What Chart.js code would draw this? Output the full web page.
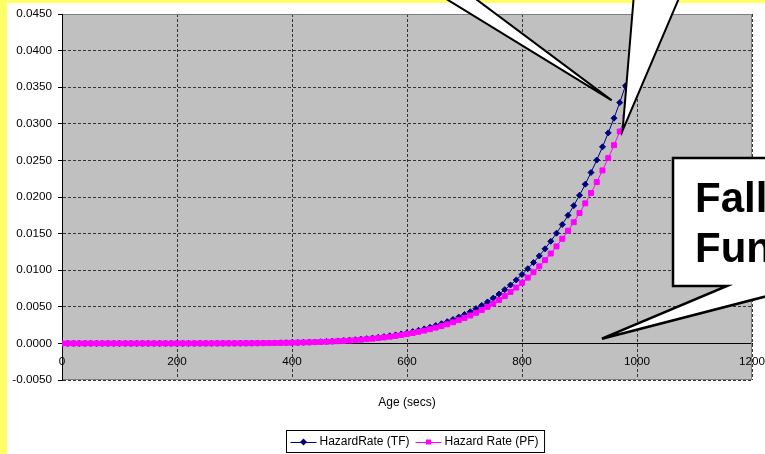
<!DOCTYPE html>
<html>
<head>
<meta charset="utf-8">
<script src="https://cdn.jsdelivr.net/npm/chart.js@4.4.0/dist/chart.umd.min.js"></script>
<style>
  html, body { margin: 0; padding: 0; background: #fff; }
  #wrap { width: 765px; height: 454px; }
</style>
</head>
<body>
<div id="wrap"><canvas id="hazard-chart" width="765" height="454"></canvas></div>
<script>
// ages (secs)
const ages = [
  0, 10, 20, 30, 40, 50, 60, 70, 80, 90,
  100, 110, 120, 130, 140, 150, 160, 170, 180, 190,
  200, 210, 220, 230, 240, 250, 260, 270, 280, 290,
  300, 310, 320, 330, 340, 350, 360, 370, 380, 390,
  400, 410, 420, 430, 440, 450, 460, 470, 480, 490,
  500, 510, 520, 530, 540, 550, 560, 570, 580, 590,
  600, 610, 620, 630, 640, 650, 660, 670, 680, 690,
  700, 710, 720, 730, 740, 750, 760, 770, 780, 790,
  800, 810, 820, 830, 840, 850, 860, 870, 880, 890,
  900, 910, 920, 930, 940, 950, 960, 970, 980
];

const hazardTF = [
  0, 0, 0, 0, 0, 0, 0, 0, 0, 0,
  0, 0, 0, 0, 0, 0, 0, 0, 0, 0,
  0.0000012, 0.0000016, 0.0000022, 0.0000029, 0.0000038, 0.0000050, 0.0000064, 0.0000082, 0.0000104, 0.0000130,
  0.0000162, 0.0000200, 0.0000245, 0.0000298, 0.0000362, 0.0000437, 0.0000525, 0.0000627, 0.0000746, 0.0000883,
  0.000104, 0.000122, 0.000143, 0.000166, 0.000193, 0.000223, 0.000258, 0.000297, 0.000340, 0.000389,
  0.000443, 0.000504, 0.000572, 0.000648, 0.000731, 0.000824, 0.000925, 0.00104, 0.00116, 0.00130,
  0.00145, 0.00161, 0.00179, 0.00199, 0.00220, 0.00244, 0.00269, 0.00297, 0.00327, 0.00360,
  0.00395, 0.00433, 0.00475, 0.00519, 0.00567, 0.00619, 0.00674, 0.00734, 0.00798, 0.00867,
  0.00941, 0.01020, 0.01105, 0.01195, 0.01292, 0.01395, 0.01506, 0.01624, 0.01749, 0.01882,
  0.02024, 0.02174, 0.02335, 0.02505, 0.02685, 0.02876, 0.03077, 0.03290, 0.03520
];

const hazardPF = [
  0, 0, 0, 0, 0, 0, 0, 0, 0, 0,
  0, 0, 0, 0, 0, 0, 0, 0, 0, 0,
  0.0000011, 0.0000014, 0.0000019, 0.0000026, 0.0000033, 0.0000044, 0.0000056, 0.0000072, 0.0000092, 0.0000114,
  0.0000143, 0.0000176, 0.0000216, 0.0000262, 0.0000319, 0.0000385, 0.0000462, 0.0000552, 0.0000656, 0.0000777,
  0.0000915, 0.000107, 0.000126, 0.000146, 0.000170, 0.000196, 0.000227, 0.000261, 0.000299, 0.000342,
  0.000390, 0.000444, 0.000503, 0.000570, 0.000643, 0.000725, 0.000814, 0.000915, 0.00102, 0.00114,
  0.00128, 0.00142, 0.00158, 0.00175, 0.00194, 0.00215, 0.00237, 0.00261, 0.00288, 0.00317,
  0.00348, 0.00381, 0.00418, 0.00457, 0.00499, 0.00545, 0.00593, 0.00646, 0.00702, 0.00763,
  0.00828, 0.00898, 0.00972, 0.01052, 0.01137, 0.01228, 0.01325, 0.01429, 0.01539, 0.01656,
  0.01781, 0.01913, 0.02055, 0.02204, 0.02363, 0.02531, 0.02708, 0.02895, 0.03098
];

const seriesNames = ['HazardRate (TF)', 'Hazard Rate (PF)'];
const xTitle = 'Age (secs)';
const calloutLines = ['Fall', 'Fun'];

const FONT = "'Liberation Sans', Arial, sans-serif";
Chart.defaults.font.family = FONT;
Chart.defaults.color = '#000';

const toPoints = (vals) => ages.map((a, i) => ({ x: a, y: vals[i] }));

// white callout wedge: two lines meeting at tip, base off the top of the canvas
const wedge = (ctx, a, tip, b) => {
  ctx.beginPath();
  ctx.moveTo(a[0], a[1]);
  ctx.lineTo(tip[0], tip[1]);
  ctx.lineTo(b[0], b[1]);
  ctx.closePath();
  ctx.fill();
  ctx.stroke();
};

const decor = {
  id: 'decor',
  beforeDraw(chart) {
    const { ctx, chartArea: a, width, height } = chart;
    ctx.save();
    ctx.fillStyle = '#fff';
    ctx.fillRect(0, 0, width, height);
    ctx.fillStyle = '#ffff66';
    ctx.fillRect(0, 0, 7, height);
    ctx.fillRect(0, 0, width, 3);
    ctx.fillStyle = '#c0c0c0';
    ctx.fillRect(a.left, a.top, a.right - a.left, a.bottom - a.top);
    ctx.restore();
  },
  beforeDatasetsDraw(chart) {
    const { ctx, chartArea: a } = chart;
    ctx.save();
    ctx.strokeStyle = '#808080';
    ctx.lineWidth = 1;
    ctx.beginPath();
    ctx.moveTo(a.left + 1, a.top + 0.5);
    ctx.lineTo(a.right - 0.5, a.top + 0.5);
    ctx.lineTo(a.right - 0.5, a.bottom - 0.5);
    ctx.lineTo(a.left + 1, a.bottom - 0.5);
    ctx.stroke();
    ctx.restore();
  },
  afterDraw(chart) {
    const { ctx, chartArea: a, scales: { x, y } } = chart;
    ctx.save();

    // axis title
    ctx.fillStyle = '#000';
    ctx.font = '12px ' + FONT;
    ctx.textAlign = 'center';
    ctx.textBaseline = 'middle';
    ctx.fillText(xTitle, (a.left + a.right) / 2, 403);

    // legend
    const sample = 26;
    const items = chart.data.datasets.map((ds) => ({
      label: ds.label,
      color: ds.borderColor,
      style: ds.pointStyle,
      w: ctx.measureText(ds.label).width,
    }));
    const boxW = 4 + items.reduce((s, it) => s + sample + 3 + it.w, 0) + 6 * (items.length - 1) + 6;
    const boxL = Math.round(415 - boxW / 2) + 0.5;
    const boxT = 430.5;
    const boxH = 22;
    const midY = 442;
    ctx.fillStyle = '#fff';
    ctx.fillRect(boxL, boxT, boxW, boxH);
    ctx.strokeStyle = '#000';
    ctx.lineWidth = 1;
    ctx.strokeRect(boxL, boxT, boxW, boxH);
    let cx = boxL + 4;
    ctx.textAlign = 'left';
    items.forEach((it) => {
      ctx.strokeStyle = it.color;
      ctx.fillStyle = it.color;
      ctx.beginPath();
      ctx.moveTo(cx, midY + 0.5);
      ctx.lineTo(cx + sample, midY + 0.5);
      ctx.stroke();
      const mx = cx + sample / 2;
      ctx.beginPath();
      if (it.style === 'rectRot') {
        ctx.moveTo(mx, midY - 3.5);
        ctx.lineTo(mx + 3.5, midY);
        ctx.lineTo(mx, midY + 3.5);
        ctx.lineTo(mx - 3.5, midY);
        ctx.closePath();
      } else {
        ctx.rect(mx - 2.5, midY - 2.5, 5, 5);
      }
      ctx.fill();
      ctx.fillStyle = '#000';
      ctx.fillText(it.label, cx + sample + 3, midY);
      cx += sample + 3 + it.w + 6;
    });

    // callouts
    ctx.fillStyle = '#fff';
    ctx.strokeStyle = '#000';
    ctx.lineWidth = 2;
    ctx.lineJoin = 'miter';
    const tip1 = [x.getPixelForValue(956), y.getPixelForValue(0.0332)];
    wedge(ctx, [437, -30], tip1, [399, -30]);
    const tip2 = [x.getPixelForValue(975), y.getPixelForValue(0.0291)];
    wedge(ctx, [636, -30], tip2, [691, -30]);

    const tip3 = [x.getPixelForValue(939), y.getPixelForValue(0.00064)];
    ctx.lineWidth = 2.5;
    ctx.beginPath();
    ctx.moveTo(673, 158);
    ctx.lineTo(900, 158);
    ctx.lineTo(900, 286);
    ctx.lineTo(806, 286);
    ctx.lineTo(tip3[0], tip3[1]);
    ctx.lineTo(727, 286);
    ctx.lineTo(673, 286);
    ctx.closePath();
    ctx.fill();
    ctx.stroke();

    ctx.fillStyle = '#000';
    ctx.font = 'bold 42px ' + FONT;
    ctx.textAlign = 'left';
    ctx.textBaseline = 'alphabetic';
    ctx.fillText(calloutLines[0], 695, 212);
    ctx.fillText(calloutLines[1], 695, 262);
    ctx.restore();
  },
};

const chart = new Chart(document.getElementById('hazard-chart').getContext('2d'), {
  type: 'line',
  data: {
    datasets: [
      {
        label: seriesNames[0],
        data: toPoints(hazardTF),
        borderColor: '#000080',
        backgroundColor: '#000080',
        borderWidth: 1,
        pointStyle: 'rectRot',
        pointRadius: 3,
        pointBorderWidth: 1,
        tension: 0,
        order: 1,
      },
      {
        label: seriesNames[1],
        data: toPoints(hazardPF),
        borderColor: '#ff00ff',
        backgroundColor: '#ff00ff',
        borderWidth: 1,
        pointStyle: 'rect',
        pointRadius: 3.5,
        pointBorderWidth: 1,
        tension: 0,
        order: 0,
      },
    ],
  },
  options: {
    responsive: false,
    animation: false,
    devicePixelRatio: 1,
    layout: { padding: { left: 0, top: 14, right: 13, bottom: 74 } },
    plugins: {
      legend: { display: false },
      tooltip: { enabled: false },
    },
    scales: {
      x: {
        type: 'linear',
        position: { y: 0 },
        min: 0,
        max: 1200,
        afterFit: (scale) => { scale.paddingLeft = 0; scale.paddingRight = 0; },
        ticks: {
          stepSize: 200,
          padding: 11,
          font: { size: 11.7 },
          color: '#000',
          maxRotation: 0,
          callback: (v) => String(v),
        },
        grid: { color: '#333', lineWidth: 1, drawTicks: false },
        border: { display: true, color: '#000', width: 1, dash: [3, 2] },
      },
      y: {
        min: -0.005,
        max: 0.045,
        afterFit: (scale) => { scale.width = 62; scale.paddingRight = 0; scale.paddingLeft = 0; },
        ticks: {
          stepSize: 0.005,
          padding: 6,
          font: { size: 11.7 },
          color: '#000',
          callback: (v) => (Math.abs(v) < 1e-9 ? 0 : v).toFixed(4),
        },
        grid: { color: '#333', lineWidth: 1, tickLength: 4, tickColor: '#000', tickBorderDash: [] },
        border: { display: true, color: '#000', width: 1, dash: [3, 2] },
      },
    },
  },
  plugins: [decor],
});
</script>
</body>
</html>
